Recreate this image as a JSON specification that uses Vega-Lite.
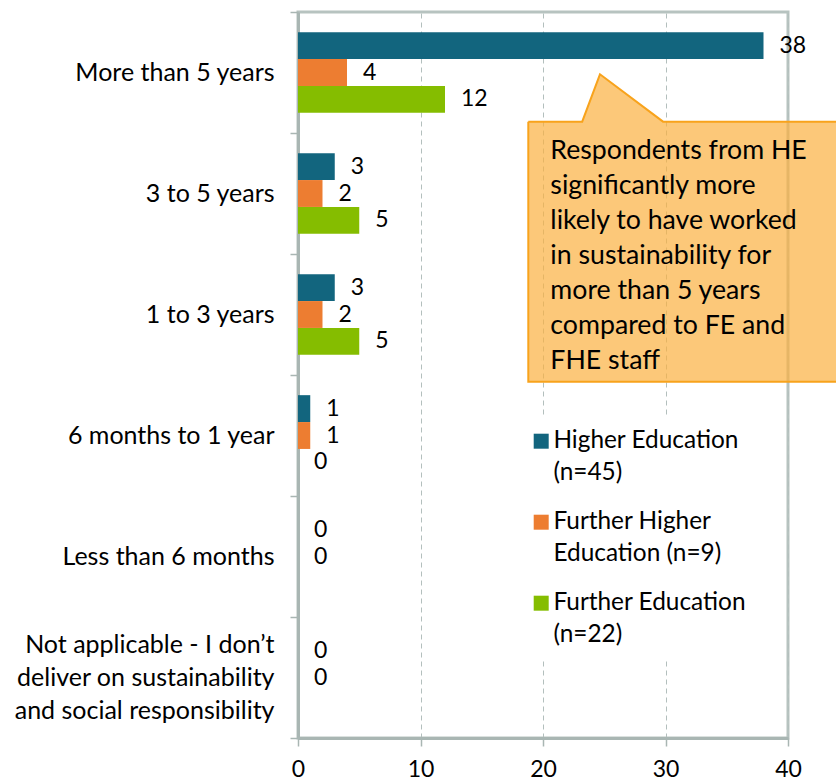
{
  "$schema": "https://vega.github.io/schema/vega-lite/v6.json",
  "width": 490,
  "height": 726,
  "autosize": {"type": "none"},
  "padding": {"left": 298, "top": 12, "right": 48, "bottom": 46},
  "background": "white",
  "config": {
    "font": "Lato",
    "view": {"stroke": "#b7c3c0", "strokeWidth": 3},
    "style": {"guide-label": {"lineHeight": 32}},
    "axis": {"labelColor": "#000000", "labelFont": "Lato", "labelFontSize": 25, "domainColor": "#a9b6b3", "domainWidth": 3, "tickColor": "#a9b6b3", "tickWidth": 1.5, "tickSize": 8},
    "legend": {"labelFont": "Lato", "labelFontSize": 24.4, "labelColor": "#000000"}
  },
  "datasets": {
    "bars": [
      {"category": "More than 5 years", "group": "Higher Education (n=45)", "value": 38},
      {"category": "More than 5 years", "group": "Further Higher Education (n=9)", "value": 4},
      {"category": "More than 5 years", "group": "Further Education (n=22)", "value": 12},
      {"category": "3 to 5 years", "group": "Higher Education (n=45)", "value": 3},
      {"category": "3 to 5 years", "group": "Further Higher Education (n=9)", "value": 2},
      {"category": "3 to 5 years", "group": "Further Education (n=22)", "value": 5},
      {"category": "1 to 3 years", "group": "Higher Education (n=45)", "value": 3},
      {"category": "1 to 3 years", "group": "Further Higher Education (n=9)", "value": 2},
      {"category": "1 to 3 years", "group": "Further Education (n=22)", "value": 5},
      {"category": "6 months to 1 year", "group": "Higher Education (n=45)", "value": 1},
      {"category": "6 months to 1 year", "group": "Further Higher Education (n=9)", "value": 1},
      {"category": "6 months to 1 year", "group": "Further Education (n=22)", "value": 0},
      {"category": "Less than 6 months", "group": "Higher Education (n=45)", "value": 0},
      {"category": "Less than 6 months", "group": "Further Higher Education (n=9)", "value": 0},
      {"category": "Not applicable - I don’t deliver on sustainability and social responsibility", "group": "Higher Education (n=45)", "value": 0},
      {"category": "Not applicable - I don’t deliver on sustainability and social responsibility", "group": "Further Higher Education (n=9)", "value": 0}
    ],
    "callout": [
      {"ord": 1, "cx": 18.8, "cy": 0.906},
      {"ord": 2, "cx": 23.2, "cy": 0.906},
      {"ord": 3, "cx": 24.65, "cy": 0.515},
      {"ord": 4, "cx": 29.8, "cy": 0.906},
      {"ord": 5, "cx": 46, "cy": 0.906},
      {"ord": 6, "cx": 46, "cy": 3.056},
      {"ord": 7, "cx": 18.8, "cy": 3.056},
      {"ord": 8, "cx": 18.8, "cy": 0.906}
    ],
    "note": [
      {"cx": 20.6, "cy": 1.215, "note": "Respondents from HE\nsignificantly  more\nlikely to have worked\nin sustainability for\nmore than 5 years\ncompared to FE and\nFHE staff"}
    ]
  },
  "layer": [
    {
      "data": {"name": "bars"},
      "encoding": {
        "y": {
          "field": "category", "type": "nominal", "sort": null,
          "scale": {"paddingInner": 0, "paddingOuter": 0},
          "axis": {
            "title": null, "tickBand": "extent", "labelPadding": 16, "labelLineHeight": 33, "labelLimit": 300,
            "labelOffset": {"condition": {"test": "datum.value == 'Not applicable - I don’t deliver on sustainability and social responsibility'", "value": -33}, "value": 0},
            "labelExpr": "datum.value == 'Not applicable - I don’t deliver on sustainability and social responsibility' ? ['Not applicable - I don’t', 'deliver on sustainability', 'and social responsibility'] : datum.label"
          }
        },
        "yOffset": {
          "field": "group", "type": "nominal",
          "sort": ["Higher Education (n=45)", "Further Higher Education (n=9)", "Further Education (n=22)"],
          "scale": {"paddingInner": 0, "paddingOuter": 0.75}
        },
        "x": {
          "field": "value", "type": "quantitative",
          "scale": {"domain": [0, 40], "nice": false},
          "axis": {"title": null, "values": [0, 10, 20, 30, 40], "grid": true, "gridDash": [5, 4], "gridColor": "#b3bfbd", "gridWidth": 1, "labelPadding": 12, "labelFontSize": 23, "labelFlush": false}
        }
      },
      "layer": [
        {
          "mark": {"type": "bar"},
          "encoding": {
            "color": {
              "field": "group", "type": "nominal",
              "scale": {"domain": ["Higher Education (n=45)", "Further Higher Education (n=9)", "Further Education (n=22)"], "range": ["#12657e", "#ed7d31", "#85bd00"]},
              "legend": {
                "title": null, "orient": "none", "legendX": 219, "legendY": 405,
                "padding": 12, "fillColor": "#ffffff", "strokeColor": null,
                "symbolType": "square", "symbolSize": 225, "symbolStrokeWidth": 0,
                "rowPadding": 24, "labelOffset": 0, "labelLimit": 300,
                "labelExpr": "datum.label == 'Further Higher Education (n=9)' ? ['Further Higher', 'Education (n=9)'] : datum.label == 'Higher Education (n=45)' ? ['Higher Education', '(n=45)'] : ['Further Education', '(n=22)']"
              }
            }
          }
        },
        {
          "mark": {"type": "text", "align": "left", "baseline": "middle", "dx": 16, "fontSize": 23, "color": "#000000"},
          "encoding": {"text": {"field": "value", "type": "quantitative"}}
        }
      ]
    },
    {
      "data": {"name": "callout"},
      "mark": {"type": "line", "filled": true, "fill": "#fbb040", "fillOpacity": 0.7, "stroke": "#f8a31c", "strokeWidth": 2, "clip": false},
      "encoding": {
        "x": {"field": "cx", "type": "quantitative", "scale": {"domain": [0, 40], "nice": false}, "title": null},
        "y": {"field": "cy", "type": "quantitative", "scale": {"domain": [0, 6], "reverse": true, "nice": false, "zero": false}, "axis": null},
        "order": {"field": "ord", "type": "quantitative"}
      }
    },
    {
      "data": {"name": "note"},
      "mark": {"type": "text", "align": "left", "baseline": "alphabetic", "lineBreak": "\n", "lineHeight": 35, "fontSize": 26.7, "color": "#000000"},
      "encoding": {
        "x": {"field": "cx", "type": "quantitative", "scale": {"domain": [0, 40], "nice": false}, "title": null},
        "y": {"field": "cy", "type": "quantitative", "scale": {"domain": [0, 6], "reverse": true, "nice": false, "zero": false}, "axis": null},
        "text": {"field": "note", "type": "nominal"}
      }
    }
  ],
  "resolve": {"scale": {"y": "independent"}}
}
